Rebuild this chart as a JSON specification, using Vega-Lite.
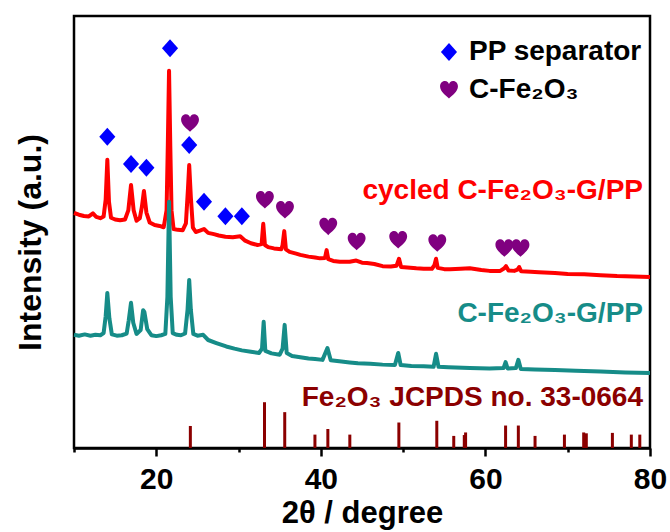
{
  "$schema": "https://vega.github.io/schema/vega-lite/v6.json",
  "width": 576,
  "height": 432,
  "autosize": {"type": "none"},
  "padding": {"left": 74, "top": 16, "right": 20, "bottom": 84},
  "background": "white",
  "config": {"view": {"stroke": "black", "strokeWidth": 2.5}, "font": "Liberation Sans"},
  "datasets": {
    "cycled": [
      {"deg": 10.0, "v": 54.4}, {"deg": 10.6, "v": 54.0}, {"deg": 11.2, "v": 53.7}, {"deg": 11.8, "v": 53.6},
      {"deg": 12.3, "v": 54.3}, {"deg": 12.7, "v": 53.5}, {"deg": 13.2, "v": 53.2}, {"deg": 13.6, "v": 53.6},
      {"deg": 13.85, "v": 57.5}, {"deg": 14.05, "v": 66.7}, {"deg": 14.25, "v": 57.0}, {"deg": 14.5, "v": 53.3},
      {"deg": 15.0, "v": 52.9}, {"deg": 15.6, "v": 52.7}, {"deg": 16.2, "v": 52.9}, {"deg": 16.6, "v": 55.0},
      {"deg": 16.93, "v": 60.9}, {"deg": 17.25, "v": 55.0}, {"deg": 17.6, "v": 52.6}, {"deg": 18.0, "v": 53.2},
      {"deg": 18.25, "v": 55.8}, {"deg": 18.5, "v": 59.5}, {"deg": 18.8, "v": 54.5}, {"deg": 19.2, "v": 52.2},
      {"deg": 19.8, "v": 51.6}, {"deg": 20.4, "v": 51.4}, {"deg": 20.9, "v": 51.1}, {"deg": 21.25, "v": 55.0},
      {"deg": 21.4, "v": 70.0}, {"deg": 21.55, "v": 87.3}, {"deg": 21.7, "v": 70.0}, {"deg": 21.85, "v": 55.0},
      {"deg": 22.1, "v": 50.7}, {"deg": 22.6, "v": 50.5}, {"deg": 23.2, "v": 50.4}, {"deg": 23.6, "v": 52.0},
      {"deg": 23.85, "v": 60.0}, {"deg": 24.0, "v": 65.5}, {"deg": 24.2, "v": 58.0}, {"deg": 24.45, "v": 51.0},
      {"deg": 24.8, "v": 50.0}, {"deg": 25.3, "v": 50.3}, {"deg": 25.8, "v": 50.7}, {"deg": 26.3, "v": 49.8},
      {"deg": 27.0, "v": 49.5}, {"deg": 27.6, "v": 49.2}, {"deg": 28.4, "v": 48.9}, {"deg": 29.3, "v": 48.8},
      {"deg": 30.2, "v": 49.0}, {"deg": 30.8, "v": 48.0}, {"deg": 31.5, "v": 47.4}, {"deg": 32.3, "v": 47.0},
      {"deg": 32.8, "v": 47.2}, {"deg": 33.0, "v": 51.9}, {"deg": 33.2, "v": 47.0}, {"deg": 33.6, "v": 46.5},
      {"deg": 34.3, "v": 46.2}, {"deg": 35.2, "v": 46.0}, {"deg": 35.35, "v": 47.0}, {"deg": 35.55, "v": 50.2},
      {"deg": 35.75, "v": 46.0}, {"deg": 36.2, "v": 45.4}, {"deg": 37.0, "v": 45.0}, {"deg": 37.5, "v": 44.7},
      {"deg": 38.5, "v": 44.3}, {"deg": 39.3, "v": 44.1}, {"deg": 39.9, "v": 43.9}, {"deg": 40.5, "v": 44.0},
      {"deg": 40.7, "v": 45.8}, {"deg": 40.9, "v": 43.7}, {"deg": 41.5, "v": 43.3}, {"deg": 42.3, "v": 43.1},
      {"deg": 43.5, "v": 43.1}, {"deg": 44.3, "v": 43.4}, {"deg": 45.0, "v": 42.9}, {"deg": 45.6, "v": 42.8},
      {"deg": 46.5, "v": 42.6}, {"deg": 47.5, "v": 42.1}, {"deg": 48.5, "v": 42.0}, {"deg": 49.2, "v": 42.2},
      {"deg": 49.5, "v": 43.8}, {"deg": 49.75, "v": 41.9}, {"deg": 50.5, "v": 41.8}, {"deg": 51.6, "v": 41.6},
      {"deg": 52.5, "v": 41.5}, {"deg": 53.5, "v": 41.5}, {"deg": 53.8, "v": 42.3}, {"deg": 54.0, "v": 43.8},
      {"deg": 54.2, "v": 41.7}, {"deg": 55.0, "v": 41.4}, {"deg": 55.7, "v": 41.4}, {"deg": 57.0, "v": 41.5},
      {"deg": 58.1, "v": 41.6}, {"deg": 59.5, "v": 41.2}, {"deg": 60.5, "v": 41.0}, {"deg": 61.8, "v": 41.0},
      {"deg": 62.3, "v": 41.6}, {"deg": 62.5, "v": 42.1}, {"deg": 62.8, "v": 41.1}, {"deg": 63.5, "v": 41.0},
      {"deg": 63.9, "v": 41.3}, {"deg": 64.1, "v": 41.9}, {"deg": 64.35, "v": 40.9}, {"deg": 65.5, "v": 40.8},
      {"deg": 66.5, "v": 40.7}, {"deg": 68.45, "v": 40.5}, {"deg": 70.0, "v": 40.3}, {"deg": 72.0, "v": 40.2},
      {"deg": 74.0, "v": 40.0}, {"deg": 76.0, "v": 39.8}, {"deg": 78.0, "v": 39.7}, {"deg": 80.0, "v": 39.6}
    ],
    "pristine": [
      {"deg": 10.0, "v": 26.2}, {"deg": 10.6, "v": 26.0}, {"deg": 11.3, "v": 26.3}, {"deg": 12.0, "v": 26.0},
      {"deg": 12.6, "v": 26.2}, {"deg": 13.2, "v": 26.1}, {"deg": 13.6, "v": 26.6}, {"deg": 13.85, "v": 30.5},
      {"deg": 14.05, "v": 35.9}, {"deg": 14.3, "v": 30.0}, {"deg": 14.6, "v": 26.3}, {"deg": 15.2, "v": 26.0},
      {"deg": 15.8, "v": 26.1}, {"deg": 16.4, "v": 26.5}, {"deg": 16.65, "v": 29.5}, {"deg": 16.93, "v": 33.6},
      {"deg": 17.2, "v": 29.0}, {"deg": 17.6, "v": 26.4}, {"deg": 18.1, "v": 27.3}, {"deg": 18.4, "v": 31.9},
      {"deg": 18.55, "v": 31.5}, {"deg": 18.9, "v": 27.5}, {"deg": 19.4, "v": 26.1}, {"deg": 20.0, "v": 25.9},
      {"deg": 20.6, "v": 26.1}, {"deg": 21.1, "v": 26.4}, {"deg": 21.35, "v": 35.0}, {"deg": 21.55, "v": 57.0},
      {"deg": 21.75, "v": 35.0}, {"deg": 22.0, "v": 26.6}, {"deg": 22.5, "v": 26.2}, {"deg": 23.0, "v": 26.1},
      {"deg": 23.5, "v": 26.5}, {"deg": 23.8, "v": 32.0}, {"deg": 24.0, "v": 38.9}, {"deg": 24.2, "v": 32.0},
      {"deg": 24.5, "v": 26.4}, {"deg": 25.0, "v": 26.0}, {"deg": 25.7, "v": 26.2}, {"deg": 26.3, "v": 25.0},
      {"deg": 27.3, "v": 24.3}, {"deg": 28.5, "v": 23.5}, {"deg": 29.5, "v": 23.0}, {"deg": 30.4, "v": 22.6},
      {"deg": 31.5, "v": 22.3}, {"deg": 32.5, "v": 22.0}, {"deg": 32.85, "v": 23.0}, {"deg": 33.05, "v": 29.2},
      {"deg": 33.25, "v": 22.5}, {"deg": 34.0, "v": 21.9}, {"deg": 35.0, "v": 21.6}, {"deg": 35.35, "v": 23.0},
      {"deg": 35.6, "v": 28.5}, {"deg": 35.85, "v": 22.0}, {"deg": 36.5, "v": 21.3}, {"deg": 37.5, "v": 21.0},
      {"deg": 38.5, "v": 20.7}, {"deg": 39.3, "v": 20.6}, {"deg": 40.2, "v": 20.4}, {"deg": 40.8, "v": 23.15},
      {"deg": 41.2, "v": 20.3}, {"deg": 42.5, "v": 20.0}, {"deg": 43.5, "v": 19.8}, {"deg": 44.5, "v": 19.6},
      {"deg": 46.0, "v": 19.5}, {"deg": 47.5, "v": 19.3}, {"deg": 49.0, "v": 19.2}, {"deg": 49.4, "v": 22.0},
      {"deg": 49.7, "v": 19.2}, {"deg": 51.0, "v": 19.0}, {"deg": 52.5, "v": 18.9}, {"deg": 53.7, "v": 18.8},
      {"deg": 54.0, "v": 21.8}, {"deg": 54.3, "v": 18.8}, {"deg": 55.5, "v": 18.7}, {"deg": 58.1, "v": 18.5},
      {"deg": 60.5, "v": 18.4}, {"deg": 62.2, "v": 18.5}, {"deg": 62.45, "v": 19.9}, {"deg": 62.7, "v": 18.4},
      {"deg": 63.7, "v": 18.5}, {"deg": 64.0, "v": 20.4}, {"deg": 64.3, "v": 18.3}, {"deg": 66.0, "v": 18.2},
      {"deg": 68.45, "v": 18.06}, {"deg": 71.0, "v": 17.9}, {"deg": 74.0, "v": 17.7}, {"deg": 77.0, "v": 17.5},
      {"deg": 80.0, "v": 17.36}
    ],
    "jcpds": [
      {"deg": 24.14, "h": 5.1}, {"deg": 33.15, "h": 10.6}, {"deg": 35.61, "h": 8.3}, {"deg": 39.28, "h": 3.1},
      {"deg": 40.85, "h": 4.4}, {"deg": 43.52, "h": 3.1}, {"deg": 49.48, "h": 5.9}, {"deg": 54.09, "h": 6.3},
      {"deg": 56.15, "h": 2.8}, {"deg": 57.43, "h": 3.0}, {"deg": 57.59, "h": 3.6}, {"deg": 62.45, "h": 5.2},
      {"deg": 64.0, "h": 5.2}, {"deg": 66.03, "h": 2.8}, {"deg": 69.6, "h": 3.1}, {"deg": 71.94, "h": 3.6},
      {"deg": 72.26, "h": 3.4}, {"deg": 75.43, "h": 3.5}, {"deg": 77.73, "h": 3.1}, {"deg": 78.76, "h": 3.1}
    ],
    "markers": [
      {"marker": "PP separator", "deg": 14.05, "v": 72.06}, {"marker": "PP separator", "deg": 16.93, "v": 65.74},
      {"marker": "PP separator", "deg": 18.8, "v": 64.88}, {"marker": "PP separator", "deg": 21.67, "v": 92.52},
      {"marker": "PP separator", "deg": 24.0, "v": 70.14}, {"marker": "PP separator", "deg": 25.8, "v": 57.01},
      {"marker": "PP separator", "deg": 28.4, "v": 53.63}, {"marker": "PP separator", "deg": 30.4, "v": 53.63},
      {"marker": "C-Fe₂O₃", "deg": 24.1, "v": 75.16}, {"marker": "C-Fe₂O₃", "deg": 33.2, "v": 57.41},
      {"marker": "C-Fe₂O₃", "deg": 35.64, "v": 55.09}, {"marker": "C-Fe₂O₃", "deg": 40.9, "v": 51.23},
      {"marker": "C-Fe₂O₃", "deg": 44.35, "v": 47.75}, {"marker": "C-Fe₂O₃", "deg": 49.4, "v": 48.15},
      {"marker": "C-Fe₂O₃", "deg": 54.15, "v": 47.38}, {"marker": "C-Fe₂O₃", "deg": 62.3, "v": 46.23},
      {"marker": "C-Fe₂O₃", "deg": 64.26, "v": 46.23}
    ]
  },
  "layer": [
    {
      "data": {"name": "cycled"},
      "mark": {"type": "line", "color": "#FF0000", "strokeWidth": 4, "strokeJoin": "round"},
      "encoding": {
        "x": {"field": "deg", "type": "quantitative", "scale": {"domain": [10, 80], "nice": false, "zero": false},
          "axis": {"values": [10, 20, 30, 40, 50, 60, 70, 80],
            "labelExpr": "datum.value % 20 === 0 ? datum.label : ''",
            "tickSize": {"condition": {"test": "datum.value % 20 === 0", "value": 8}, "value": 4},
            "tickWidth": 2.5, "tickColor": "black", "domainColor": "black", "domainWidth": 2.5,
            "labelFontSize": 30, "labelFontWeight": "bold", "labelColor": "black", "labelFont": "Liberation Sans",
            "labelBaseline": "alphabetic", "labelPadding": 32, "labelFlush": false, "labelOverlap": false,
            "title": "2θ / degree", "titleFontSize": 31, "titleFontWeight": "bold", "titleColor": "black",
            "titleFont": "Liberation Sans", "titleY": 74, "titleBaseline": "alphabetic", "grid": false}},
        "y": {"field": "v", "type": "quantitative", "scale": {"domain": [0, 100], "nice": false, "zero": false},
          "axis": {"title": "Intensity (a.u.)", "labels": false, "ticks": false, "domain": false, "grid": false,
            "titleFontSize": 32, "titleFontWeight": "bold", "titleColor": "black", "titleFont": "Liberation Sans",
            "titleX": -44, "titleY": 226, "titleAngle": 270, "titleAlign": "center", "titleBaseline": "middle"}}
      }
    },
    {
      "data": {"name": "pristine"},
      "mark": {"type": "line", "color": "#168C88", "strokeWidth": 4, "strokeJoin": "round"},
      "encoding": {
        "x": {"field": "deg", "type": "quantitative"},
        "y": {"field": "v", "type": "quantitative"}
      }
    },
    {
      "data": {"name": "jcpds"},
      "mark": {"type": "rule", "color": "#8B0000", "strokeWidth": 3},
      "encoding": {
        "x": {"field": "deg", "type": "quantitative"},
        "y": {"field": "h", "type": "quantitative"},
        "y2": {"datum": 0}
      }
    },
    {
      "data": {"name": "markers"},
      "mark": {"type": "point", "filled": true, "opacity": 1, "size": 320, "strokeWidth": 0},
      "encoding": {
        "x": {"field": "deg", "type": "quantitative"},
        "y": {"field": "v", "type": "quantitative"},
        "shape": {"field": "marker", "type": "nominal",
          "scale": {"domain": ["PP separator", "C-Fe₂O₃"],
            "range": ["M0,-1L0.9,0L0,1L-0.9,0Z", "M0,0.95C-0.35,0.6,-1,0.15,-1,-0.4C-1,-0.8,-0.7,-1,-0.45,-1C-0.2,-1,-0.05,-0.85,0,-0.65C0.05,-0.85,0.2,-1,0.45,-1C0.7,-1,1,-0.8,1,-0.4C1,0.15,0.35,0.6,0,0.95Z"]},
          "legend": {"title": null, "orient": "none", "legendX": 361, "legendY": 22, "padding": 0,
            "labelFontSize": 28, "labelFontWeight": "bold", "labelColor": "black", "labelFont": "Liberation Sans", "labelLimit": 0,
            "symbolSize": 320, "symbolStrokeWidth": 0, "symbolOpacity": 1, "rowPadding": 10, "labelOffset": 6}},
        "color": {"field": "marker", "type": "nominal",
          "scale": {"domain": ["PP separator", "C-Fe₂O₃"], "range": ["#0000FF", "#800080"]},
          "legend": {"title": null, "orient": "none", "legendX": 361, "legendY": 22, "padding": 0,
            "labelFontSize": 28, "labelFontWeight": "bold", "labelColor": "black", "labelFont": "Liberation Sans", "labelLimit": 0,
            "symbolSize": 320, "symbolStrokeWidth": 0, "symbolOpacity": 1, "rowPadding": 10, "labelOffset": 6}}
      }
    },
    {
      "data": {"values": [{"name": "cycled C-Fe₂O₃-G/PP", "deg": 79.15, "v": 57.6}]},
      "mark": {"type": "text", "align": "right", "baseline": "alphabetic", "color": "#FF0000",
        "fontSize": 28, "fontWeight": "bold", "font": "Liberation Sans"},
      "encoding": {
        "x": {"field": "deg", "type": "quantitative"},
        "y": {"field": "v", "type": "quantitative"},
        "text": {"field": "name"}
      }
    },
    {
      "data": {"values": [{"name": "C-Fe₂O₃-G/PP", "deg": 79.15, "v": 29.2}]},
      "mark": {"type": "text", "align": "right", "baseline": "alphabetic", "color": "#168C88",
        "fontSize": 28, "fontWeight": "bold", "font": "Liberation Sans"},
      "encoding": {
        "x": {"field": "deg", "type": "quantitative"},
        "y": {"field": "v", "type": "quantitative"},
        "text": {"field": "name"}
      }
    },
    {
      "data": {"values": [{"name": "Fe₂O₃ JCPDS no. 33-0664", "deg": 79.15, "v": 9.7}]},
      "mark": {"type": "text", "align": "right", "baseline": "alphabetic", "color": "#8B0000",
        "fontSize": 28, "fontWeight": "bold", "font": "Liberation Sans"},
      "encoding": {
        "x": {"field": "deg", "type": "quantitative"},
        "y": {"field": "v", "type": "quantitative"},
        "text": {"field": "name"}
      }
    }
  ]
}
